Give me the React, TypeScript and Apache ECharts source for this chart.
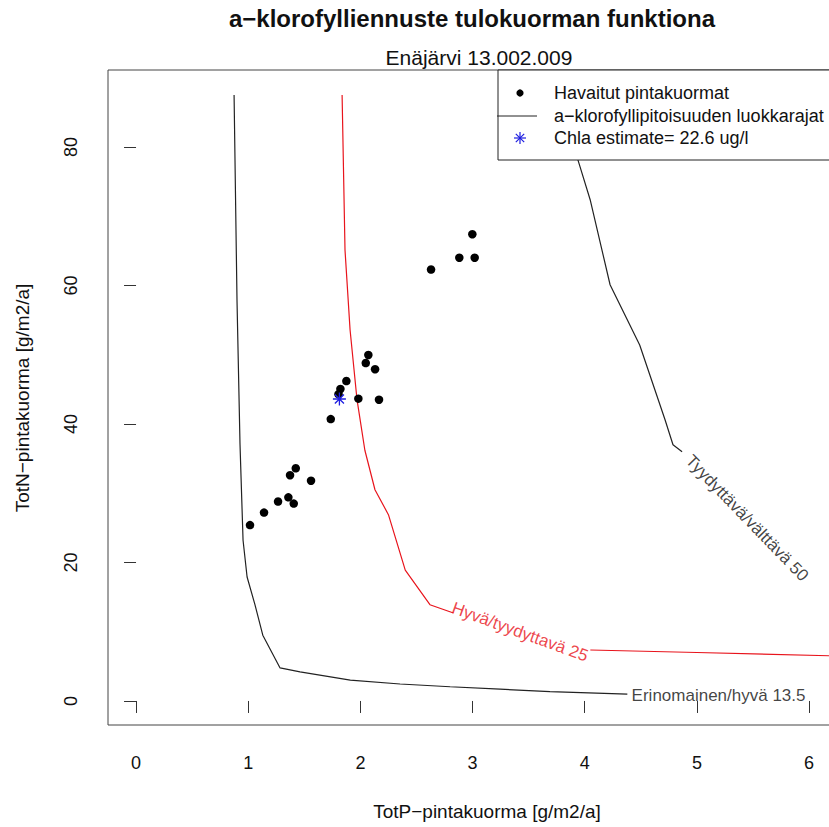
import React, { useEffect, useRef } from "react";
import * as echarts from "echarts";

const xTicks = [0, 1, 2, 3, 4, 5, 6];
const yTicks = [0, 20, 40, 60, 80];

// Observed loads (TotP, TotN)
const obsP = [2.998, 2.882, 3.019, 2.63, 2.071, 2.048, 2.131, 1.875, 1.822, 1.805, 1.982, 2.166, 1.736, 1.424, 1.373, 1.56, 1.266, 1.358, 1.406, 1.141, 1.016];
const obsN = [67.4, 64.0, 64.0, 62.3, 49.96, 48.8, 47.9, 46.2, 45.05, 44.3, 43.65, 43.5, 40.7, 33.6, 32.6, 31.8, 28.8, 29.4, 28.5, 27.2, 25.4];

// Chla estimate point
const estP = [1.813];
const estN = [43.6];

// Class boundary curves
const c135P = [0.874, 0.9, 0.927, 0.954, 0.99, 1.06, 1.13, 1.284, 1.462, 1.91, 2.354, 2.8, 3.245, 3.69, 4.38];
const c135N = [87.5, 57.9, 37.0, 23.2, 17.9, 13.9, 9.5, 4.77, 4.19, 3.0, 2.45, 2.05, 1.7, 1.35, 1.0];

const c25aP = [1.837, 1.863, 1.908, 1.97, 2.04, 2.13, 2.25, 2.4, 2.62, 2.83];
const c25aN = [87.5, 65.1, 53.6, 43.5, 36.2, 30.5, 26.9, 18.9, 13.9, 12.7];
const c25bP = [4.05, 5.0, 6.5];
const c25bN = [7.36, 7.0, 6.4];

const c50P = [3.86, 3.9, 3.94, 4.05, 4.226, 4.49, 4.716, 4.787, 4.868];
const c50N = [87.5, 82.0, 78.1, 72.3, 60.1, 51.4, 40.6, 37.0, 36.0];

// Curve labels
const labelText = ["Erinomainen/hyvä 13.5", "Hyvä/tyydyttavä 25", "Tyydyttävä/välttävä 50"];
const labelP = [5.193, 3.423, 5.447];
const labelN = [0.72, 9.96, 26.4];
const labelRot = [0, -20, -46];
const labelColor = ["#111111", "#e8141c", "#111111"];

const legendText = ["Havaitut pintakuormat", "a\u2212klorofyllipitoisuuden luokkarajat", "Chla estimate= 22.6 ug/l"];

const FONT = "'Liberation Sans', Arial, Helvetica, sans-serif";

const pairs = (xs: number[], ys: number[]) => xs.map((x, i) => [x, ys[i]]);

export default function App() {
  const ref = useRef<HTMLDivElement>(null);
  useEffect(() => {
    if (!ref.current) return;
    const chart = echarts.init(ref.current, undefined, { renderer: "svg" });
    const pxPerX = 112.17;
    const gridW = 780;
    const xMin = -0.25;
    const xMax = xMin + gridW / pxPerX;
    const lx = 498, ly = 70;
    const rows = [93, 116, 138];
    const starR = 6;
    const option: any = {
      animation: false,
      backgroundColor: "#ffffff",
      grid: {
        left: 108,
        top: 70,
        width: gridW,
        height: 655,
        show: true,
        borderColor: "#444",
        borderWidth: 1,
        backgroundColor: "transparent",
      },
      xAxis: {
        type: "value",
        min: xMin,
        max: xMax,
        splitLine: { show: false },
        axisLine: { show: false },
        axisTick: { show: true, customValues: xTicks, length: 12, lineStyle: { color: "#333", width: 1 } },
        axisLabel: { customValues: xTicks, margin: 29, fontSize: 18, color: "#111", fontFamily: FONT },
      },
      yAxis: {
        type: "value",
        min: -3.47,
        max: 91.11,
        splitLine: { show: false },
        axisLine: { show: false },
        axisTick: { show: true, customValues: yTicks, length: 12, lineStyle: { color: "#333", width: 1 } },
        axisLabel: { customValues: yTicks, margin: 28, rotate: 90, fontSize: 18, color: "#111", fontFamily: FONT },
      },
      series: [
        {
          type: "line",
          data: pairs(c135P, c135N),
          showSymbol: false,
          lineStyle: { color: "#222", width: 1.2 },
          z: 2,
        },
        {
          type: "line",
          data: pairs(c25aP, c25aN),
          showSymbol: false,
          lineStyle: { color: "#e8141c", width: 1.2 },
          z: 2,
        },
        {
          type: "line",
          data: pairs(c25bP, c25bN),
          showSymbol: false,
          lineStyle: { color: "#e8141c", width: 1.2 },
          z: 2,
        },
        {
          type: "line",
          data: pairs(c50P, c50N),
          showSymbol: false,
          lineStyle: { color: "#222", width: 1.2 },
          z: 2,
        },
        {
          type: "scatter",
          data: pairs(obsP, obsN),
          symbol: "circle",
          symbolSize: 8.5,
          itemStyle: { color: "#000", opacity: 1 },
          z: 3,
        },
        {
          type: "scatter",
          data: pairs(estP, estN),
          symbol: "path://M0,-10L0,10M-10,0L10,0M-7,-7L7,7M-7,7L7,-7",
          symbolSize: 13,
          itemStyle: { color: "rgba(0,0,0,0)", borderColor: "#1f1fe0", borderWidth: 1.3, opacity: 1 },
          z: 4,
        },
        {
          type: "scatter",
          symbolSize: 0,
          silent: true,
          data: labelText.map((t, i) => ({
            value: [labelP[i], labelN[i]],
            label: {
              show: true,
              position: "inside",
              formatter: t,
              rotate: labelRot[i],
              color: labelColor[i],
              fontSize: 17,
              fontFamily: FONT,
            },
          })),
          z: 5,
        },
      ],
      graphic: [
        {
          type: "text",
          style: {
            x: 472, y: 18,
            text: "a\u2212klorofylliennuste tulokuorman funktiona",
            font: `bold 24px ${FONT}`,
            fill: "#111",
            textAlign: "center",
            textVerticalAlign: "middle",
          },
          z: 20,
        },
        {
          type: "text",
          style: {
            x: 479, y: 57,
            text: "Enäjärvi 13.002.009",
            font: `21px ${FONT}`,
            fill: "#111",
            textAlign: "center",
            textVerticalAlign: "middle",
          },
          z: 20,
        },
        {
          type: "text",
          style: {
            x: 487, y: 811,
            text: "TotP\u2212pintakuorma [g/m2/a]",
            font: `19px ${FONT}`,
            fill: "#111",
            textAlign: "center",
            textVerticalAlign: "middle",
          },
          z: 20,
        },
        {
          type: "text",
          x: 22,
          y: 398,
          rotation: Math.PI / 2,
          style: {
            x: 0, y: 0,
            text: "TotN\u2212pintakuorma [g/m2/a]",
            font: `19px ${FONT}`,
            fill: "#111",
            textAlign: "center",
            textVerticalAlign: "middle",
          },
          z: 20,
        },
        {
          type: "group",
          z: 50,
          children: [
            {
              type: "rect",
              shape: { x: lx, y: ly, width: 360, height: 90 },
              style: { fill: "#fff", stroke: "#222", lineWidth: 1 },
              z: 50,
            },
            {
              type: "circle",
              shape: { cx: 520, cy: rows[0], r: 3.6 },
              style: { fill: "#000" },
              z: 51,
            },
            {
              type: "line",
              shape: { x1: 497, y1: rows[1], x2: 537, y2: rows[1] },
              style: { stroke: "#222", lineWidth: 1 },
              z: 51,
            },
            { type: "line", shape: { x1: 520, y1: rows[2] - starR, x2: 520, y2: rows[2] + starR }, style: { stroke: "#1f1fe0", lineWidth: 1.2 }, z: 51 },
            { type: "line", shape: { x1: 520 - starR, y1: rows[2], x2: 520 + starR, y2: rows[2] }, style: { stroke: "#1f1fe0", lineWidth: 1.2 }, z: 51 },
            { type: "line", shape: { x1: 520 - starR * 0.7, y1: rows[2] - starR * 0.7, x2: 520 + starR * 0.7, y2: rows[2] + starR * 0.7 }, style: { stroke: "#1f1fe0", lineWidth: 1.2 }, z: 51 },
            { type: "line", shape: { x1: 520 - starR * 0.7, y1: rows[2] + starR * 0.7, x2: 520 + starR * 0.7, y2: rows[2] - starR * 0.7 }, style: { stroke: "#1f1fe0", lineWidth: 1.2 }, z: 51 },
            ...legendText.map((t, i) => ({
              type: "text",
              style: {
                x: 554, y: rows[i],
                text: t,
                font: `18px ${FONT}`,
                fill: "#111",
                textAlign: "left",
                textVerticalAlign: "middle",
              },
              z: 51,
            })),
          ],
        },
      ],
    };
    chart.setOption(option);
    return () => chart.dispose();
  }, []);
  return (
    <div style={{ position: "fixed", left: 0, top: 0, width: 829, height: 827, overflow: "hidden", background: "#fff" }}>
      <div ref={ref} style={{ width: 900, height: 827 }} />
    </div>
  );
}
